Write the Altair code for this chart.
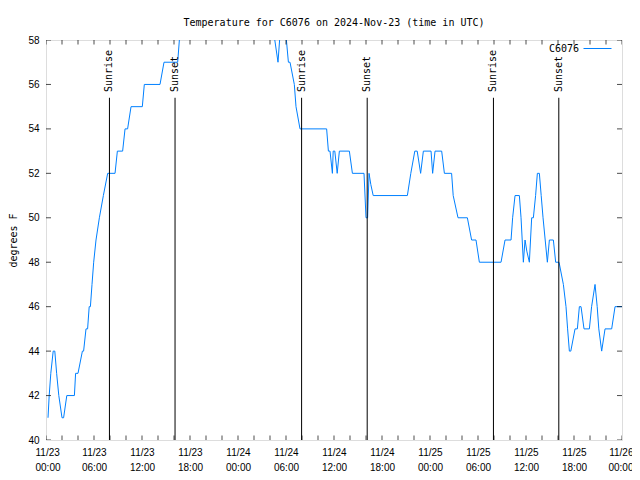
import altair as alt
import pandas as pd

# ---- data (hours since 2024-11-23 00:00 UTC, temperature in degrees F) ----
hours = [0.25, 0.4, 0.6, 0.9, 1.1, 1.33, 1.6, 2.0, 2.2, 2.6, 3.55, 3.7, 4.0, 4.55, 4.7,
         5.0, 5.2, 5.4, 5.55, 5.75, 5.96, 6.25, 6.67, 7.17, 7.71, 8.63, 8.92, 9.58, 9.88,
         10.2, 10.63, 12.04, 12.29, 14.25, 14.75, 16.46, 16.67,
         17.5, 19.0, 21.0, 23.0, 25.0, 27.0, 28.2, 29.0, 29.4, 29.8, 30.3, 30.5,
         31.04, 31.25, 31.75, 35.08, 35.3, 35.5, 35.8, 35.9, 36.1, 36.4, 36.67, 37.92,
         38.3, 39.75, 40.0, 40.2, 40.38, 40.6, 40.9, 45.17, 45.6, 46.1, 46.4, 46.83,
         47.17, 48.13, 48.33, 48.63, 49.46, 49.8, 50.7, 50.9, 51.5, 52.67, 53.2, 53.75,
         54.17, 56.88, 57.38, 58.13, 58.33, 58.63, 59.17, 59.38, 59.67, 59.88, 60.1,
         60.42, 60.71, 60.92, 61.2, 61.42, 61.67, 61.9, 62.13, 62.4, 62.67, 62.92, 63.42,
         63.71, 64.13, 64.67, 65.0, 65.2, 65.42, 65.6, 66.13, 66.42, 66.67, 66.88, 67.25,
         67.92, 68.2, 68.63, 68.9, 69.1, 69.46, 69.88, 70.71, 71.13, 72.0]
temps = [41, 42, 43, 44, 44, 43, 42, 41, 41, 42, 42, 43, 43, 44, 44,
         45, 45, 46, 46, 47, 48, 49, 50, 51, 52, 52, 53, 53, 54,
         54, 55, 55, 56, 56, 57, 57, 58,
         59, 60, 61, 61, 60, 59, 59, 57, 59, 59, 57, 57,
         56, 55, 54, 54, 53, 53, 52, 53, 53, 52, 53, 53,
         52, 52, 50, 50, 52, 51.5, 51, 51, 52, 53, 53, 52,
         53, 53, 52, 53, 53, 52, 52, 51, 50, 50, 49, 49,
         48, 48, 49, 49, 50, 51, 51, 50, 48, 49, 48.5,
         48, 50, 50, 51, 52, 52, 51, 50, 49, 48, 49, 49,
         48, 48, 47, 46, 45, 44, 44, 45, 45, 46, 46, 45,
         45, 46, 47, 46, 45, 44, 45, 45, 46, 46]

sun_hours = [7.93, 16.13, 31.95, 40.15, 55.93, 64.1]
sun_labels = ["Sunrise", "Sunset", "Sunrise", "Sunset", "Sunrise", "Sunset"]

y_tick_values = [40, 42, 44, 46, 48, 50, 52, 54, 56, 58]
x_tick_hours = list(range(0, 73, 2))
x_label_hours = list(range(0, 73, 6))

base = pd.Timestamp("2024-11-23T00:00:00Z")


def ts(h):
    return (base + pd.Timedelta(hours=h)).strftime("%Y-%m-%dT%H:%M:%SZ")


def dt(h):
    t = base + pd.Timedelta(hours=h)
    return alt.DateTime(year=t.year, month=t.month, date=t.day, hours=t.hour, utc=True)


df = pd.DataFrame({"t": [ts(h) for h in hours], "temp": temps, "series": "C6076"})
sun_df = pd.DataFrame({"t": [ts(h) for h in sun_hours], "label": sun_labels})
ytick_df = pd.DataFrame({"v": y_tick_values})
xtick_df = pd.DataFrame({"t": [ts(h) for h in x_tick_hours]})

FONT = "DejaVu Sans Mono"
W, H = 576, 400

xscale = alt.Scale(type="utc", domain=[ts(0), ts(72)], nice=False)
yscale = alt.Scale(domain=[40, 58], nice=False, zero=False)

xaxis = alt.Axis(
    values=[dt(h) for h in x_label_hours],
    labelExpr="[utcFormat(datum.value, '%m/%d'), utcFormat(datum.value, '%H:%M')]",
    labelLineHeight=15, labelPadding=7, ticks=False, domain=False, grid=False,
    title=None, labelAngle=0, labelFlush=True, labelFlushOffset=11,
    labelOverlap=False,
)
yaxis = alt.Axis(
    values=y_tick_values, ticks=False, domain=False, grid=False,
    title="degrees F", labelPadding=7, titlePadding=9, titleFontWeight="normal",
    titleFont=FONT, titleFontSize=10,
)

line = alt.Chart(df).mark_line(clip=True, strokeWidth=1).encode(
    x=alt.X("t:T", scale=xscale, axis=xaxis),
    y=alt.Y("temp:Q", scale=yscale, axis=yaxis),
    color=alt.Color(
        "series:N",
        scale=alt.Scale(range=["#0080ff"]),
        legend=alt.Legend(
            title=None, orient="none", legendX=537, legendY=-6,
            symbolType="stroke", symbolSize=784, symbolStrokeWidth=1,
            labelAlign="right", labelOffset={"expr": "-33"},
            labelFont=FONT, labelFontSize=10, padding=0,
        ),
    ),
)

rules = alt.Chart(sun_df).mark_rule(color="black", strokeWidth=1).encode(
    x="t:T", y=alt.datum(55.4), y2=alt.datum(40)
)

labels = alt.Chart(sun_df).mark_text(
    angle=270, align="left", baseline="middle", font=FONT, fontSize=10, color="black"
).encode(x="t:T", y=alt.datum(55.66), text="label:N")

ytl = alt.Chart(ytick_df).mark_tick(clip=True, orient="horizontal", size=10, thickness=1,
                                    color="black").encode(y="v:Q", x=alt.value(0))
ytr = alt.Chart(ytick_df).mark_tick(clip=True, orient="horizontal", size=10, thickness=1,
                                    color="black").encode(y="v:Q", x=alt.value(W))
xtb = alt.Chart(xtick_df).mark_tick(clip=True, orient="vertical", size=9, thickness=1,
                                    color="black").encode(x="t:T", y=alt.value(H))
xtt = alt.Chart(xtick_df).mark_tick(clip=True, orient="vertical", size=9, thickness=1,
                                    color="black").encode(x="t:T", y=alt.value(0))

chart = alt.layer(line, rules, labels, ytl, ytr, xtb, xtt).properties(
    width=W, height=H,
    title=alt.TitleParams(
        "Temperature for C6076 on 2024-Nov-23 (time in UTC)",
        font=FONT, fontSize=10, fontWeight="normal", anchor="middle", offset=6,
        color="black",
    ),
    autosize=alt.AutoSizeParams(type="none"),
    padding={"left": 38, "top": 32, "right": 10, "bottom": 32},
).configure_view(stroke="black", strokeWidth=1).configure_axis(
    labelFont=FONT, labelFontSize=10, labelColor="black",
    titleFont=FONT, titleFontSize=10, titleFontWeight="normal", titleColor="black",
).configure(background="white")

chart.save("out.html", embed_options={"renderer": "svg", "actions": False})
